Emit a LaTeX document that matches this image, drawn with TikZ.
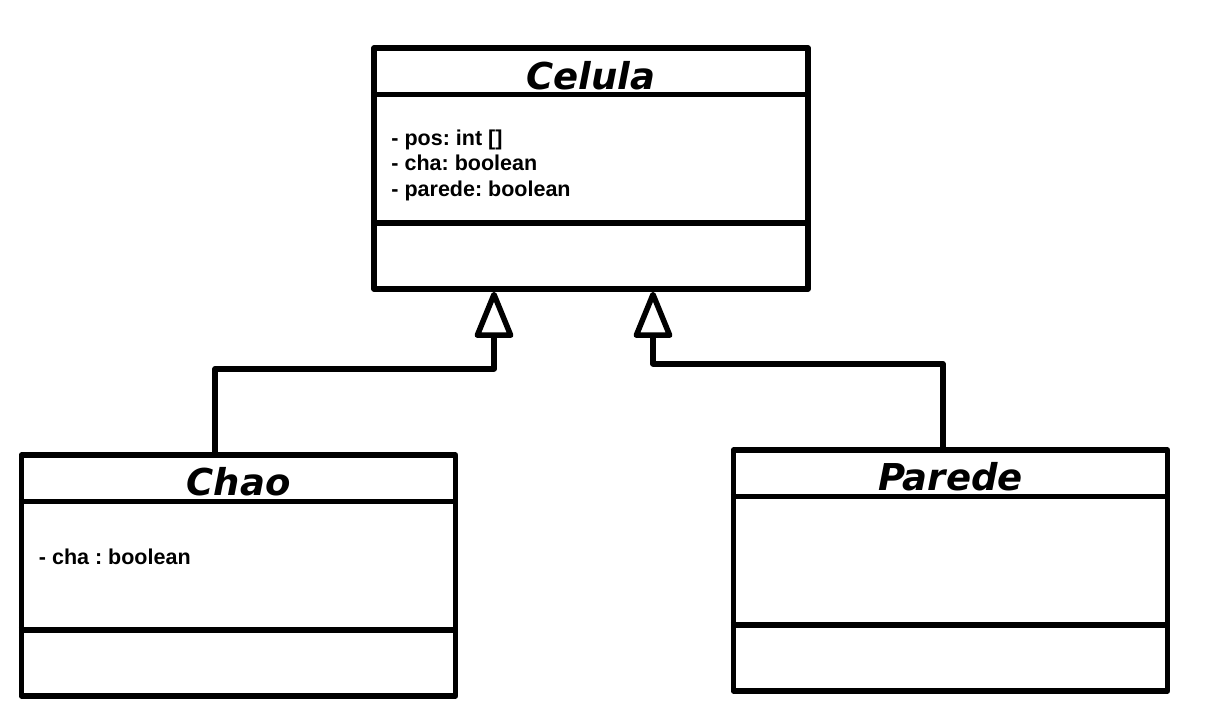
\documentclass[tikz,border=0pt]{standalone}
\usepackage{fontspec}
\setmainfont{Liberation Sans}
\newfontfamily\titlefont{DejaVu Sans}
\usetikzlibrary{arrows.meta,positioning}
\frenchspacing
\tikzset{
  classbox/.style={draw, line width=5.5pt, line join=round, minimum width=434pt, minimum height=241pt, inner sep=0pt},
  classname/.style={anchor=base, inner sep=0pt, font=\titlefont\bfseries\itshape\fontsize{37}{40}\selectfont},
  attrs/.style={anchor=base west, inner sep=0pt, align=left, font=\bfseries\fontsize{21.5}{25.5}\selectfont},
  inherit/.style={line width=5.5pt, line join=round, -{Triangle[open, length=51pt, width=40pt, round]}}
}
\begin{document}
\begin{tikzpicture}[x=1pt,y=-1pt]
    \useasboundingbox (0,0) rectangle (1208,721);

    %Classes
    \node[classbox] (celula) at (591,168.5) {};
    \node[classbox] (chao) at (238.5,575.5) {};
    \node[classbox] (parede) at (950.5,570.5) {};
    \foreach \c in {celula,chao,parede}{
        \draw[line width=5.5pt] ([yshift=-49pt]\c.north west) -- ([yshift=-49pt]\c.north east);
        \draw[line width=5.5pt] ([yshift=-177.5pt]\c.north west) -- ([yshift=-177.5pt]\c.north east);
    }
    %Names
    \node[classname] (celula-name) at ([yshift=-44.5pt]celula.north) {Celula};
    \node[classname] (chao-name) at ([yshift=-43.5pt]chao.north) {Chao};
    \node[classname] (parede-name) at ([yshift=-43.5pt]parede.north) {Parede};
    %Attributes (base = last line)
    \node[attrs] (celula-attrs) at ([xshift=20pt,yshift=-151pt]celula.north west) {- pos: int []\\- cha: boolean\\- parede: boolean};
    \node[attrs] (chao-attrs) at ([xshift=20pt,yshift=-112pt]chao.north west) {- cha : boolean};
    %Inheritance
    \draw[inherit] ([xshift=-23.5pt]chao.north) -- ++(0,-83.5) -| ([xshift=-97pt]celula.south);
    \draw[inherit] ([xshift=-7.5pt]parede.north) -- ++(0,-83.5) -| ([xshift=62pt]celula.south);
\end{tikzpicture}
\end{document}
